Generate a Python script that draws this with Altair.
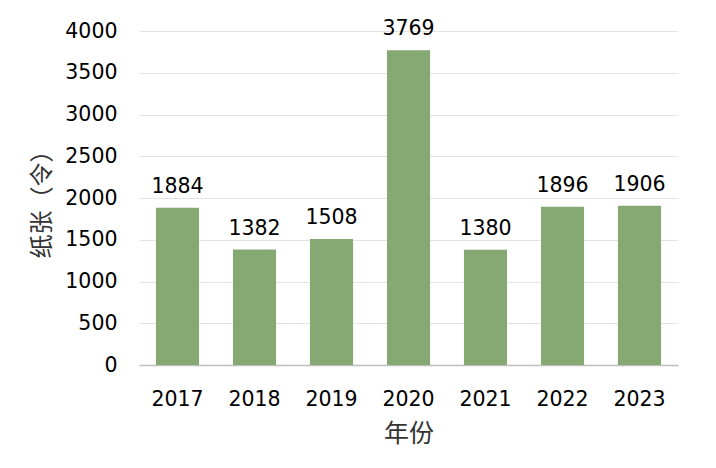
import altair as alt
import pandas as pd

years = ["2017", "2018", "2019", "2020", "2021", "2022", "2023"]
values = [1884, 1382, 1508, 3769, 1380, 1896, 1906]

df = pd.DataFrame({"年份": years, "纸张": values})

FONT = "DejaVu Sans"
CJK = "Noto Sans CJK SC"

base = alt.Chart(df).encode(
    x=alt.X("年份:N", sort=years,
            scale=alt.Scale(paddingInner=0.44, paddingOuter=0.22),
            axis=alt.Axis(title="年份", labelAngle=0, labelFont=FONT, labelFontSize=20.5,
                          labelColor="#000000", labelPadding=24, ticks=False,
                          domainColor="#bfbfbf", domainWidth=1.5,
                          titleFont=CJK, titleFontSize=25, titleFontWeight="normal",
                          titleColor="#333333", titlePadding=12)),
    y=alt.Y("纸张:Q", scale=alt.Scale(domain=[0, 4000]),
            axis=alt.Axis(title="纸张（令）", values=list(range(0, 4001, 500)), format="d",
                          labelFont=FONT, labelFontSize=20.5, labelColor="#000000",
                          labelPadding=22, ticks=False, domain=False,
                          gridColor="#e4e4e4", gridWidth=1,
                          titleFont=CJK, titleFontSize=24, titleFontWeight="normal",
                          titleColor="#333333", titlePadding=10)),
)

bars = base.mark_bar(color="#86A872")
labels = base.mark_text(dy=-21, font=FONT, fontSize=20.5, color="#000000").encode(
    text=alt.Text("纸张:Q", format="d"))

chart = (bars + labels).properties(
    width=539, height=334,
    autosize=alt.AutoSizeParams(type="none"),
    padding={"left": 131, "top": 23, "right": 20, "bottom": 90},
).configure_view(stroke=None)

chart.save("out.html", embed_options={"renderer": "svg", "actions": False})
